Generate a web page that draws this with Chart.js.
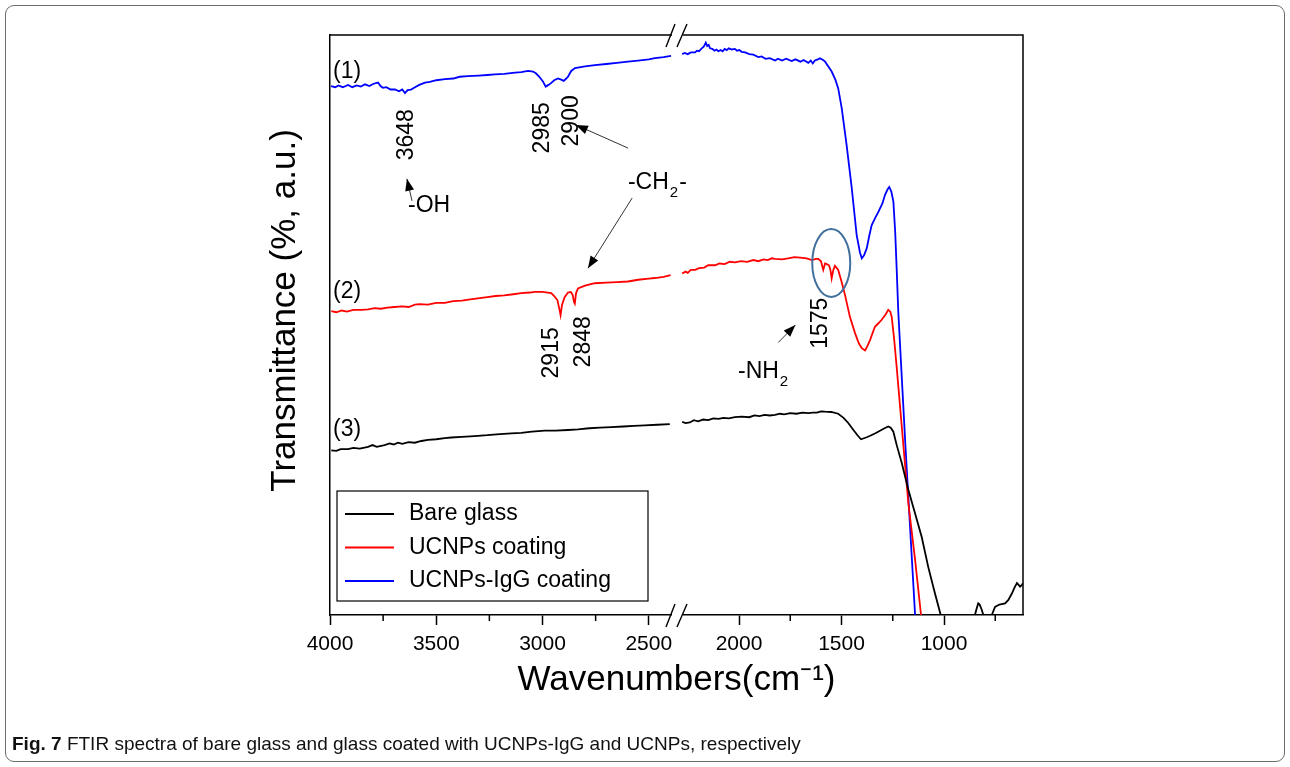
<!DOCTYPE html>
<html><head><meta charset="utf-8">
<script src="https://cdn.jsdelivr.net/npm/chart.js@4"></script>
<style>
html,body{margin:0;padding:0;background:#fff;}
#wrap{position:relative;width:1290px;height:767px;overflow:hidden;background:#fff;}
#frame{position:absolute;left:5px;top:5px;width:1278px;height:755px;border:1px solid #6d6d6d;border-radius:9px;}
canvas{position:absolute;left:0;top:0;}
#cap{position:absolute;left:12px;top:733px;font-family:"Liberation Sans",Arial,sans-serif;font-size:19px;color:#111;white-space:nowrap;}
</style></head><body>
<div id="wrap"><div id="frame"></div><canvas id="c" width="1290" height="767"></canvas>
<div id="cap"><b>Fig. 7</b> FTIR spectra of bare glass and glass coated with UCNPs-IgG and UCNPs, respectively</div></div>
<script>
// ---------------- DATA ----------------
const seriesNames = ['Bare glass', 'UCNPs coating', 'UCNPs-IgG coating'];
const tickWavenumbers = [4000, 3500, 3000, 2500, 2000, 1500, 1000];
const tickLabels = ['4000', '3500', '3000', '2500', '2000', '1500', '1000'];
const minorTickWavenumbers = [3750, 3250, 2750, 1750, 1250, 750];

// (1) UCNPs-IgG coating, blue
const blueLeftW = [3995,3975,3960,3940,3915,3895,3875,3855,3835,3815,3795,3774,3762,3751,3735,3715,3694,3675,3660,3647,3635,3619,3600,3580,3553,3530,3500,3459,3420,3390,3351,3300,3260,3224,3180,3129,3100,3068,3045,3031,3015,2998,2985,2972,2960,2945,2927,2912,2900,2888,2880,2865,2847,2800,2753,2700,2650,2598,2550,2500,2471,2430,2395];
const blueLeftT = [91.2,91.0,91.3,91.0,91.4,91.0,91.3,91.1,91.5,91.2,91.6,91.8,91.2,90.9,91.0,90.6,90.6,90.3,90.6,90.0,90.5,90.6,91.0,91.4,91.8,91.9,92.2,92.4,92.5,92.8,92.9,93.0,93.1,93.2,93.3,93.5,93.6,93.8,93.7,93.4,92.8,92.0,91.1,91.4,91.7,92.2,92.5,92.3,92.1,92.5,92.8,93.8,94.3,94.6,94.8,95.0,95.2,95.4,95.6,95.8,96.0,96.2,96.4];
const blueRightW = [2277,2265,2250,2235,2214,2205,2195,2182,2172,2162,2155,2148,2141,2130,2120,2110,2101,2090,2080,2070,2060,2050,2035,2020,2010,1998,1987,1970,1950,1930,1906,1890,1870,1850,1824,1810,1790,1770,1743,1725,1700,1685,1662,1650,1640,1630,1615,1605,1590,1580,1565,1548,1530,1516,1499,1475,1450,1426,1410,1401,1390,1377,1365,1353,1335,1320,1300,1288,1275,1267,1257,1247,1238,1231,1223,1187,1141,1120];
const blueRightT = [96.7,96.9,96.7,97.0,97.0,97.3,97.2,97.7,98.0,98.7,98.1,98.3,97.7,97.6,97.3,97.5,97.2,97.4,97.2,97.6,97.4,97.7,97.5,97.6,97.3,97.4,97.1,97.0,96.7,96.6,96.2,96.3,95.9,96.0,95.6,95.9,95.6,95.9,95.5,95.8,95.4,95.7,95.2,95.6,95.1,95.6,95.8,96.0,95.7,95.4,94.6,93.7,92.3,90.8,87.4,81.0,73.6,65.5,62.5,61.5,62.0,63.2,65.3,67.2,68.5,69.5,71.0,72.4,73.4,73.8,73.0,71.3,66.0,59.8,52.3,28.4,0,-10];

// (2) UCNPs coating, red
const redLeftW = [3994,3970,3945,3920,3890,3853,3820,3790,3760,3730,3696,3660,3630,3600,3578,3540,3500,3460,3420,3380,3340,3304,3260,3220,3180,3137,3100,3060,3037,3000,2975,2959,2945,2930,2922,2915,2908,2896,2880,2867,2858,2852,2848,2842,2833,2800,2754,2700,2650,2598,2550,2500,2472,2430,2397];
const redLeftT = [52.4,52.2,52.5,52.3,52.6,52.6,52.7,52.9,52.8,53.0,53.1,53.2,53.1,53.5,53.6,53.5,53.8,53.8,54.1,54.2,54.4,54.6,54.8,55.0,55.1,55.3,55.5,55.6,55.7,55.7,55.6,55.5,55.0,54.3,53.0,51.7,53.5,54.8,55.6,55.7,55.2,54.0,53.7,55.5,56.3,56.8,57.2,57.3,57.4,57.5,57.8,58.0,58.1,58.3,58.6];
const redRightW = [2277,2260,2250,2235,2214,2195,2170,2150,2117,2095,2070,2045,2020,1990,1960,1930,1906,1880,1860,1840,1824,1790,1760,1730,1702,1670,1645,1625,1613,1600,1589,1580,1572,1561,1554,1548,1540,1532,1516,1500,1483,1459,1434,1415,1401,1385,1372,1361,1337,1320,1304,1285,1272,1262,1255,1243,1231,1206,1174,1141,1112,1100];
const redRightT = [58.9,59.2,59.0,59.5,59.5,59.8,59.9,60.3,60.3,60.6,60.5,60.9,60.8,61.0,60.9,61.2,61.0,61.3,61.2,61.5,61.4,61.3,61.5,61.7,61.6,61.5,61.2,61.4,61.4,61.0,59.5,60.6,60.5,60.3,59.5,58.05,59.5,60.2,59.5,57.5,55.2,51.4,48.6,46.8,46.0,45.6,46.5,47.4,49.7,50.3,50.9,51.8,52.6,52.3,51.4,47.5,42.8,32.5,19.3,9.5,0,-5];

// (3) Bare glass, black
const blackLeftW = [3994,3970,3950,3915,3890,3860,3821,3800,3780,3743,3720,3700,3680,3660,3630,3601,3570,3539,3500,3460,3429,3380,3340,3304,3260,3200,3147,3100,3050,2990,2940,2880,2833,2780,2730,2676,2620,2570,2519,2460,2401];
const blackLeftT = [28.4,28.3,28.6,28.6,28.8,28.7,29.0,29.3,29.0,29.3,29.6,29.4,29.7,29.5,29.8,29.7,30.0,30.2,30.3,30.5,30.6,30.7,30.8,30.9,31.0,31.2,31.3,31.4,31.6,31.8,31.8,31.9,32.0,32.2,32.3,32.4,32.5,32.6,32.7,32.8,32.9];
const blackRightW = [2277,2260,2240,2220,2200,2175,2150,2125,2100,2075,2050,2020,1987,1950,1925,1900,1875,1850,1824,1800,1780,1750,1720,1690,1662,1640,1620,1600,1580,1550,1516,1490,1467,1440,1420,1405,1380,1360,1337,1310,1290,1272,1260,1247,1230,1206,1174,1141,1109,1077,1044,1016,990,930,870,849,840,833,826,816,808,790,767,751,730,702,686,669,655,644,636,629,620,615];
const blackRightT = [33.3,33.1,33.2,33.6,33.4,33.7,33.6,33.9,33.8,34.0,33.9,34.1,34.2,34.1,34.4,34.3,34.5,34.4,34.5,34.7,34.6,34.8,34.7,34.9,34.8,34.9,34.9,35.1,35.05,35.0,34.7,34.0,33.1,31.8,30.9,30.3,30.6,30.9,31.3,31.8,32.2,32.5,32.3,31.6,29.2,26.2,21.6,17.5,13.5,8.3,3.7,0,-6,-8,-3,0,1.2,2.0,1.8,0.9,0,-1.5,0,1.4,1.8,2.0,2.6,3.7,4.8,5.5,5.2,4.9,5.2,5.5];

// ---------------- BROKEN AXIS MAPPING ----------------
const LEFT_START = 4000, LEFT_PX_PER_UNIT = 0.2125;
const RIGHT_REF = 2000, RIGHT_REF_POS = 409, RIGHT_PX_PER_UNIT = 0.205;
const BREAK_WAVENUMBER = 2330, BREAK_POS = 348, AXIS_MAX_POS = 693;
function toPos(w) {
  return w >= BREAK_WAVENUMBER ? (LEFT_START - w) * LEFT_PX_PER_UNIT
                               : RIGHT_REF_POS + (RIGHT_REF - w) * RIGHT_PX_PER_UNIT;
}
function buildSeries(lw, lt, rw, rt) {
  const pts = lw.map((w, i) => ({x: toPos(w), y: lt[i]}));
  pts.push({x: BREAK_POS, y: null});
  rw.forEach((w, i) => pts.push({x: toPos(w), y: rt[i]}));
  return pts;
}

const FONT = '"Liberation Sans", Arial, Helvetica, sans-serif';
Chart.defaults.font.family = FONT;
Chart.defaults.color = '#000';

const decor = {
  id: 'decor',
  afterDraw(chart) {
    const ctx = chart.ctx, ca = chart.chartArea;
    const xs = chart.scales.x, ys = chart.scales.y;
    const P = (w, t) => [xs.getPixelForValue(toPos(w)), ys.getPixelForValue(t)];
    ctx.save();
    // frame: top and right
    ctx.strokeStyle = '#000'; ctx.lineWidth = 1.5;
    ctx.beginPath();
    ctx.moveTo(ca.left, ca.top); ctx.lineTo(ca.right, ca.top); ctx.lineTo(ca.right, ca.bottom);
    ctx.stroke();
    // minor ticks
    minorTickWavenumbers.forEach(w => {
      const x = xs.getPixelForValue(toPos(w));
      ctx.beginPath(); ctx.moveTo(x, ca.bottom); ctx.lineTo(x, ca.bottom + 6); ctx.stroke();
    });
    // axis break marks
    const bx = xs.getPixelForValue(BREAK_POS);
    [ca.top, ca.bottom].forEach(y => {
      ctx.fillStyle = '#fff';
      ctx.fillRect(bx - 6, y - 2, 11, 4);
      ctx.strokeStyle = '#000'; ctx.lineWidth = 1.4;
      ctx.beginPath();
      ctx.moveTo(bx - 12, y + 12); ctx.lineTo(bx - 3, y - 11);
      ctx.moveTo(bx - 1, y + 12); ctx.lineTo(bx + 9, y - 11);
      ctx.stroke();
    });
    // annotations
    ctx.fillStyle = '#000';
    ctx.textBaseline = 'middle';
    ctx.font = '23px ' + FONT;
    const leftText = (txt, w, t) => { const [x, y] = P(w, t); ctx.textAlign = 'left'; ctx.fillText(txt, x, y); };
    leftText('(1)', 3986, 93.6);
    leftText('(2)', 3986, 55.7);
    leftText('(3)', 3986, 31.9);
    const vText = (txt, w, t) => {
      const [x, y] = P(w, t);
      ctx.save(); ctx.translate(x, y); ctx.rotate(-Math.PI / 2);
      ctx.textAlign = 'center'; ctx.fillText(txt, 0, 0); ctx.restore();
    };
    vText('3648', 3638, 82.8);
    vText('2985', 2998, 84.0);
    vText('2900', 2861, 85.2);
    vText('2915', 2955, 45.2);
    vText('2848', 2805, 47.1);
    vText('1575', 1600, 50.3);
    leftText('-OH', 3633, 70.5);
    const subText = (main, sub, tail, w, t) => {
      let [x, y] = P(w, t);
      ctx.textAlign = 'left';
      ctx.font = '23px ' + FONT; ctx.fillText(main, x, y); x += ctx.measureText(main).width;
      ctx.font = '15px ' + FONT; ctx.fillText(sub, x + 1, y + 10); x += ctx.measureText(sub).width + 2;
      ctx.font = '23px ' + FONT; if (tail) ctx.fillText(tail, x, y);
    };
    subText('-CH', '2', '-', 2598, 74.5);
    subText('-NH', '2', '', 2005, 41.9);
    // arrows
    const arrow = (x1, y1, x2, y2) => {
      ctx.strokeStyle = '#333'; ctx.lineWidth = 1;
      ctx.beginPath(); ctx.moveTo(x1, y1); ctx.lineTo(x2, y2); ctx.stroke();
      const a = Math.atan2(y2 - y1, x2 - x1), L = 12, H = 4.5;
      ctx.fillStyle = '#000';
      ctx.beginPath();
      ctx.moveTo(x2, y2);
      ctx.lineTo(x2 - L * Math.cos(a) + H * Math.sin(a), y2 - L * Math.sin(a) - H * Math.cos(a));
      ctx.lineTo(x2 - L * Math.cos(a) - H * Math.sin(a), y2 - L * Math.sin(a) + H * Math.cos(a));
      ctx.closePath(); ctx.fill();
    };
    const A = (w1, t1, w2, t2) => { const [a, b] = P(w1, t1), [c, d] = P(w2, t2); arrow(a, b, c, d); };
    A(3614, 71.4, 3638, 75.2);     // -OH
    A(2597, 80.5, 2843, 84.5);     // -CH2- up
    A(2578, 71.9, 2786, 59.8);     // -CH2- down
    A(1808, 47.0, 1725, 50.0);     // -NH2
    // ellipse around 1575
    const [ex, ey] = P(1550, 60.7);
    ctx.strokeStyle = '#41719c'; ctx.lineWidth = 2;
    ctx.beginPath(); ctx.ellipse(ex, ey, 19, 34, 0, 0, Math.PI * 2); ctx.stroke();
    // legend box
    const lx = ca.left + 7, ly = ca.bottom - 124, lw = 311, lh = 110;
    ctx.fillStyle = '#fff'; ctx.fillRect(lx, ly, lw, lh);
    ctx.strokeStyle = '#000'; ctx.lineWidth = 1.2; ctx.strokeRect(lx, ly, lw, lh);
    ctx.font = '23px ' + FONT; ctx.textAlign = 'left'; ctx.textBaseline = 'middle';
    chart.data.datasets.forEach((ds, i) => {
      const y = ly + 23 + i * 33.5;
      ctx.strokeStyle = ds.borderColor; ctx.lineWidth = 2;
      ctx.beginPath(); ctx.moveTo(lx + 8, y); ctx.lineTo(lx + 57, y); ctx.stroke();
      ctx.fillStyle = '#000'; ctx.fillText(ds.label, lx + 72, y);
    });
    ctx.restore();
  }
};

new Chart(document.getElementById('c'), {
  type: 'line',
  data: {
    datasets: [
      {label: seriesNames[0], data: buildSeries(blackLeftW, blackLeftT, blackRightW, blackRightT), borderColor: '#000000'},
      {label: seriesNames[1], data: buildSeries(redLeftW, redLeftT, redRightW, redRightT), borderColor: '#ff0000'},
      {label: seriesNames[2], data: buildSeries(blueLeftW, blueLeftT, blueRightW, blueRightT), borderColor: '#0000ff'}
    ]
  },
  options: {
    responsive: false, animation: false, devicePixelRatio: 1,
    parsing: true, spanGaps: false,
    elements: {point: {radius: 0}, line: {tension: 0, borderWidth: 1.8}},
    layout: {padding: {left: 250, top: 35, right: 267, bottom: 0}},
    plugins: {legend: {display: false}, tooltip: {enabled: false}},
    scales: {
      x: {
        type: 'linear', min: 0, max: AXIS_MAX_POS,
        afterBuildTicks: s => { s.ticks = tickWavenumbers.map(w => ({value: toPos(w)})); },
        afterFit: s => { s.height = 152; },
        ticks: {autoSkip: false, maxRotation: 0, padding: 7, font: {size: 21}, color: '#000',
                callback: (v, i) => tickLabels[i]},
        grid: {display: true, drawOnChartArea: false, drawTicks: true, tickLength: 10, tickColor: '#000', tickWidth: 1.5},
        border: {display: true, color: '#000', width: 1.5},
        title: {display: true, text: 'Wavenumbers(cm\u207B\u00B9)', font: {size: 35}, color: '#000', padding: {top: 0, bottom: 66}}
      },
      y: {
        min: 0, max: 100,
        afterFit: s => { s.width = 80; },
        ticks: {display: false},
        grid: {display: false, drawTicks: false},
        border: {display: true, color: '#000', width: 1.5},
        title: {display: true, text: '   Transmittance (%, a.u.)', font: {size: 35}, color: '#000', padding: {top: 14, bottom: 0}}
      }
    }
  },
  plugins: [decor]
});
</script>
</body></html>
